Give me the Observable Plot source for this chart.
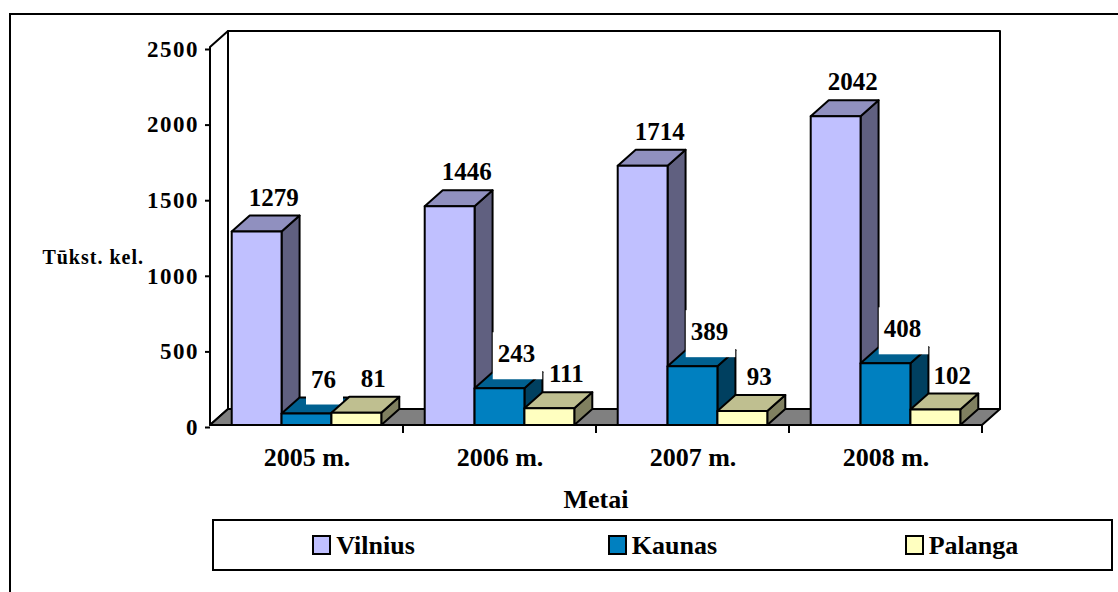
<!DOCTYPE html>
<html>
<head>
<meta charset="utf-8">
<script src="https://cdn.jsdelivr.net/npm/d3@7"></script>
<script src="https://cdn.jsdelivr.net/npm/@observablehq/plot@0.6"></script>
<style>
  html, body { margin: 0; padding: 0; background: #fff; width: 1118px; height: 592px; overflow: hidden; }
  #frame { position: absolute; left: 9px; top: 13px; width: 1200px; height: 700px; border: 2px solid #000; }
  #chart { position: absolute; left: 0; top: 0; }
  .chart3d g[aria-label="y-axis tick label"] text { letter-spacing: 1.5px; }
  #legend { position: absolute; left: 212px; top: 519px; width: 897px; height: 48px; border: 2px solid #000;
            display: flex; align-items: center; font: bold 26px 'Liberation Serif', 'Times New Roman', serif; background: #fff; }
  #legend .item { flex: 1; display: flex; justify-content: center; align-items: center; }
  #legend .sw { width: 15px; height: 16px; border: 2px solid #000; margin-right: 5px; }
  #legend .lab { position: relative; top: 1px; }
</style>
</head>
<body>
<div id="frame"></div>
<div id="chart"></div>
<div id="legend"></div>
<script>
// ---- data ----
const years = ["2005 m.", "2006 m.", "2007 m.", "2008 m."];
const cities = ["Vilnius", "Kaunas", "Palanga"];
const vilnius = [1279, 1446, 1714, 2042];
const kaunas = [76, 243, 389, 408];
const palanga = [81, 111, 93, 102];
const yTicks = [0, 500, 1000, 1500, 2000, 2500];
const cityColors = ["#C0C0FF", "#0080C0", "#FFFFC0"];
const yLabel = "Tūkst. kel.";
const xLabel = "Metai";

const seriesValues = [vilnius, kaunas, palanga];
const rows = years.flatMap((year, j) => cities.map((city, k) => ({year, city, k, value: seriesValues[k][j]})));
const rowsVK = rows.filter(d => d.k < 2);
const rowsK = rows.filter(d => d.k === 1);
const rowsP = rows.filter(d => d.k === 2);
const rowsVP = rows.filter(d => d.k !== 1);

// ---- 3D styling ----
const DX = 18, DY = -16, GROUP = 0.775, SW = 2, LABEL_DX = 17;
const FONT = "'Liberation Serif', 'Times New Roman', serif";

function shade(c, f) { const r = d3.rgb(c); return d3.rgb(r.r * f, r.g * f, r.b * f).formatHex(); }
function bwOf(s) { return typeof s.x.bandwidth === "function" ? s.x.bandwidth() : s.scales.x.bandwidth; }
function geom(d, scales) {
  const bw = bwOf(scales);
  const w = bw * GROUP / cities.length;
  const x0 = scales.x(d.year) + bw * (1 - GROUP) / 2 + d.k * w;
  return {x0, x1: x0 + w, w, yt: scales.y(d.value), yb: scales.y(0)};
}

const bars3d = data => (I, scales) => {
  const g = d3.create("svg:g").attr("stroke", "#000").attr("stroke-width", SW).attr("stroke-linejoin", "round");
  for (const i of I) {
    const d = data[i];
    const {x0, x1, w, yt, yb} = geom(d, scales);
    const c = cityColors[d.k];
    g.append("path").attr("d", `M${x1},${yt}L${x1 + DX},${yt + DY}L${x1 + DX},${yb + DY}L${x1},${yb}Z`).attr("fill", shade(c, 0.5));
    g.append("path").attr("d", `M${x0},${yt}L${x0 + DX},${yt + DY}L${x1 + DX},${yt + DY}L${x1},${yt}Z`).attr("fill", shade(c, 0.75));
    g.append("rect").attr("x", x0).attr("y", yt).attr("width", w).attr("height", yb - yt).attr("fill", c);
  }
  return g.node();
};

const labels3d = (data, boxed) => (I, scales) => {
  const g = d3.create("svg:g");
  for (const i of I) {
    const d = data[i];
    const {x0, w, yt} = geom(d, scales);
    const cx = x0 + w / 2 + LABEL_DX, base = yt + DY - 10;
    const t = String(d.value), tw = t.length * 12.5;
    if (boxed) g.append("rect").attr("x", cx - tw / 2 - 5).attr("y", base - 30).attr("width", tw + 12).attr("height", 47).attr("fill", "#fff");
    g.append("text").attr("x", cx).attr("y", base).attr("text-anchor", "middle")
      .attr("font-family", FONT).attr("font-size", 25).attr("font-weight", "bold").attr("fill", "#000").text(t);
  }
  return g.node();
};

function wallAndFloor(I, scales, values, dims) {
  const xl = dims.marginLeft, xr = dims.width - dims.marginRight;
  const yb = scales.y(0), yt = scales.y(d3.max(yTicks));
  const g = d3.create("svg:g").attr("stroke", "#000").attr("stroke-width", SW).attr("stroke-linejoin", "round");
  g.append("path").attr("d", `M${xl},${yt}L${xl + DX},${yt + DY}L${xl + DX},${yb + DY}L${xl},${yb}Z`).attr("fill", "#fff");
  g.append("rect").attr("x", xl + DX).attr("y", yt + DY).attr("width", xr - xl).attr("height", yb - yt).attr("fill", "#fff");
  g.append("path").attr("d", `M${xl},${yb}L${xr},${yb}L${xr + DX},${yb + DY}L${xl + DX},${yb + DY}Z`).attr("fill", "#808080");
  return g.node();
}

function bandEdgeTicks(I, scales) {
  const bw = bwOf(scales), yb = scales.y(0);
  const g = d3.create("svg:g").attr("stroke", "#000").attr("stroke-width", SW);
  for (const yr of years) {
    const x = scales.x(yr) + bw;
    g.append("line").attr("x1", x).attr("x2", x).attr("y1", yb).attr("y2", yb + 8);
  }
  return g.node();
}

function axisTitles(I, scales, values, dims) {
  const xl = dims.marginLeft, xr = dims.width - dims.marginRight;
  const g = d3.create("svg:g").attr("font-family", FONT).attr("font-weight", "bold").attr("fill", "#000");
  g.append("text").attr("x", (xl + xr) / 2).attr("y", scales.y(0) + 83).attr("text-anchor", "middle")
    .attr("font-size", 26).text(xLabel);
  g.append("text").attr("x", xl - 66).attr("y", scales.y(1000) - 10).attr("text-anchor", "end")
    .attr("font-size", 20).attr("letter-spacing", "1px").text(yLabel);
  return g.node();
}

const chart = Plot.plot({
  width: 1118,
  height: 515,
  marginLeft: 210,
  marginRight: 136,
  marginTop: 47,
  marginBottom: 90,
  className: "chart3d",
  style: {fontFamily: FONT, fontWeight: "bold", color: "#000", background: "transparent", overflow: "visible"},
  x: {type: "band", domain: years, padding: 0},
  y: {type: "linear", domain: [0, 2500]},
  marks: [
    wallAndFloor,
    Plot.axisY({ticks: yTicks, tickSize: 5, tickPadding: 6.5, tickFormat: d => String(d), fontSize: 23,
                fontWeight: "bold", strokeWidth: 2, dy: 2, label: null}),
    Plot.axisX({tickSize: 0, tickPadding: 22, fontSize: 26, fontWeight: "bold", label: null}),
    bandEdgeTicks,
    Plot.barY(rowsVK, {x: "year", y1: 0, y2: "value", render: bars3d(rowsVK)}),
    Plot.text(rowsK, {x: "year", y: "value", text: d => String(d.value), render: labels3d(rowsK, true)}),
    Plot.barY(rowsP, {x: "year", y1: 0, y2: "value", render: bars3d(rowsP)}),
    Plot.text(rowsVP, {x: "year", y: "value", text: d => String(d.value), render: labels3d(rowsVP, false)}),
    axisTitles
  ]
});
document.getElementById("chart").appendChild(chart);

// ---- legend ----
const legend = d3.select("#legend");
cities.forEach((c, k) => {
  const item = legend.append("div").attr("class", "item");
  item.append("div").attr("class", "sw").style("background", cityColors[k]);
  item.append("span").attr("class", "lab").text(c);
});
</script>
</body>
</html>
